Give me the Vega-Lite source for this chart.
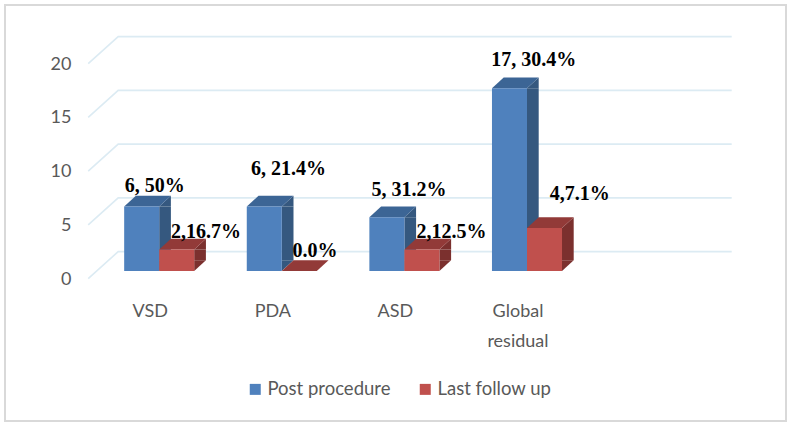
{
"$schema":"https://vega.github.io/schema/vega-lite/v6.json",
"width":781,"height":416,
"autosize":"none",
"padding":{"left":5,"top":5,"right":5,"bottom":6},
"background":"white",
"view":{"stroke":"#d9d9d9","strokeWidth":2,"fill":"white"},
"datasets":{"bars":[
{"category":"VSD","series":"Post procedure","value":6,"label":"6, 50%"},
{"category":"VSD","series":"Last follow up","value":2,"label":"2,16.7%"},
{"category":"PDA","series":"Post procedure","value":6,"label":"6, 21.4%"},
{"category":"PDA","series":"Last follow up","value":0,"label":"0.0%"},
{"category":"ASD","series":"Post procedure","value":5,"label":"5, 31.2%"},
{"category":"ASD","series":"Last follow up","value":2,"label":"2,12.5%"},
{"category":"Global residual","series":"Post procedure","value":17,"label":"17, 30.4%"},
{"category":"Global residual","series":"Last follow up","value":4,"label":"4,7.1%"}
]},
"layer":[
{"data":{"values":[{"tick":0},{"tick":5},{"tick":10},{"tick":15},{"tick":20}]},
 "mark":{"type":"point","filled":false,"size":4,"shape":"M-71,7.6 L-41,-19.4 L572.5,-19.4","stroke":"#dcebf3","strokeWidth":1.6,"opacity":1},
 "encoding":{
  "x":{"datum":"VSD","type":"nominal","scale":{"domain":["VSD","PDA","ASD","Global residual"," "],"range":[92.9,705.9],"paddingInner":0,"paddingOuter":0},
   "axis":{"title":null,"orient":"bottom","offset":-119,"domain":false,"ticks":false,"labelPadding":0,"labelAngle":0,"labelOffset":-9,"labelFont":"Lato","labelFontSize":18,"labelColor":"#595959","labelLineHeight":30,"labelBaseline":"top","labelExpr":"datum.label=='Global residual'?['Global','residual']:datum.label"}},
  "y":{"field":"tick","type":"quantitative","scale":{"domain":[0,20],"range":[266,51],"nice":false,"zero":false},
   "axis":{"title":null,"values":[0,5,10,15,20],"offset":-66,"domain":false,"ticks":false,"grid":false,"labelPadding":0,"labelOffset":8,"labelFont":"Lato","labelFontSize":18,"labelColor":"#595959"}}
 }},
{"data":{"name":"bars"},
 "encoding":{
  "x":{"field":"category","type":"nominal"},
  "xOffset":{"field":"series","type":"nominal","scale":{"domain":["Post procedure","Last follow up"],"paddingInner":0,"paddingOuter":0.75}},
  "y":{"field":"value","type":"quantitative"}
 },
 "layer":[
 {"transform":[{"filter":"datum.series=='Post procedure'"}],"mark":{"type":"rule","strokeWidth":11.7,"color":"#35587f"},
  "encoding":{"xOffset":{"value":67.15},"y2":{"datum":1}}},
 {"transform":[{"filter":"datum.series=='Last follow up' && datum.value>0"}],"mark":{"type":"rule","strokeWidth":11.7,"color":"#7b302e"},
  "encoding":{"xOffset":{"value":102.15},"y2":{"datum":1}}},
 {"transform":[{"filter":"datum.value>0"}],"mark":{"type":"point","filled":true,"opacity":1,"size":4,"strokeWidth":0,"shape":"M17.5,0 L29.2,-10.7 L29.2,0 Z"},
  "encoding":{"fill":{"condition":{"test":"datum.series=='Post procedure'","value":"#35587f"},"value":"#7b302e"}}},
 {"transform":[{"filter":"datum.value>0"}],"mark":{"type":"point","filled":true,"opacity":1,"size":4,"strokeWidth":0,"shape":"M17.5,0 L17.5,-10.7 L29.2,-10.7 Z"},
  "encoding":{"y":{"datum":0},"fill":{"condition":{"test":"datum.series=='Post procedure'","value":"#35587f"},"value":"#7b302e"}}},
 {"mark":{"type":"point","filled":true,"opacity":1,"size":4,"strokeWidth":0,"shape":"M-17.5,0 L-5.8,-10.7 L29.2,-10.7 L17.5,0 Z"},
  "encoding":{"fill":{"condition":{"test":"datum.series=='Post procedure'","value":"#3c6595"},"value":"#923a38"}}},
 {"mark":{"type":"bar"},
  "encoding":{"fill":{"field":"series","type":"nominal","scale":{"domain":["Post procedure","Last follow up"],"range":["#4f81bd","#c0504d"]},
   "legend":{"title":null,"orient":"none","legendX":241,"legendY":375,"direction":"horizontal","columns":2,"symbolType":"square","symbolSize":121,"symbolStrokeWidth":0,"labelFont":"Lato","labelFontSize":18.5,"labelColor":"#595959","labelOffset":3,"columnPadding":25}}}},
 {"transform":[{"filter":"datum.label=='6, 50%'"}],"mark":{"type":"text","font":"Liberation Serif","fontWeight":"bold","fontSize":20,"color":"black","baseline":"alphabetic","dx":13,"dy":-14.5},"encoding":{"text":{"field":"label"}}},
 {"transform":[{"filter":"datum.label=='2,16.7%'"}],"mark":{"type":"text","font":"Liberation Serif","fontWeight":"bold","fontSize":20,"color":"black","baseline":"alphabetic","dx":29.3,"dy":-11.5},"encoding":{"text":{"field":"label"}}},
 {"transform":[{"filter":"datum.label=='6, 21.4%'"}],"mark":{"type":"text","font":"Liberation Serif","fontWeight":"bold","fontSize":20,"color":"black","baseline":"alphabetic","dx":24.3,"dy":-31.5},"encoding":{"text":{"field":"label"}}},
 {"transform":[{"filter":"datum.label=='0.0%'"}],"mark":{"type":"text","font":"Liberation Serif","fontWeight":"bold","fontSize":20,"color":"black","baseline":"alphabetic","dx":15.7,"dy":-13.7},"encoding":{"text":{"field":"label"}}},
 {"transform":[{"filter":"datum.label=='5, 31.2%'"}],"mark":{"type":"text","font":"Liberation Serif","fontWeight":"bold","fontSize":20,"color":"black","baseline":"alphabetic","dx":22,"dy":-21.5},"encoding":{"text":{"field":"label"}}},
 {"transform":[{"filter":"datum.label=='2,12.5%'"}],"mark":{"type":"text","font":"Liberation Serif","fontWeight":"bold","fontSize":20,"color":"black","baseline":"alphabetic","dx":29.6,"dy":-11.8},"encoding":{"text":{"field":"label"}}},
 {"transform":[{"filter":"datum.label=='17, 30.4%'"}],"mark":{"type":"text","font":"Liberation Serif","fontWeight":"bold","fontSize":20,"color":"black","baseline":"alphabetic","dx":24.2,"dy":-22.5},"encoding":{"text":{"field":"label"}}},
 {"transform":[{"filter":"datum.label=='4,7.1%'"}],"mark":{"type":"text","font":"Liberation Serif","fontWeight":"bold","fontSize":20,"color":"black","baseline":"alphabetic","dx":35.2,"dy":-28},"encoding":{"text":{"field":"label"}}}
 ]}
]}
